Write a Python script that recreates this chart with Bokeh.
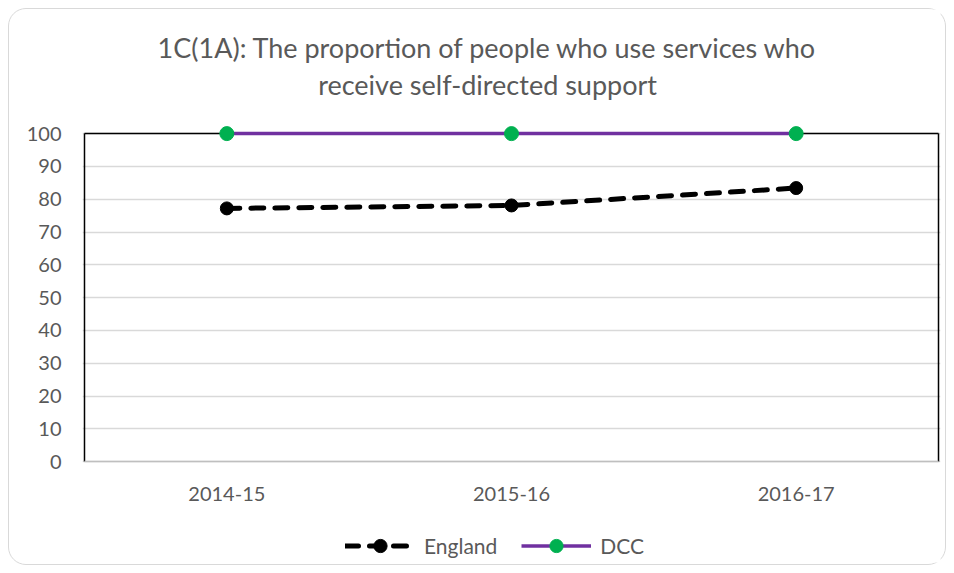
from bokeh.plotting import figure
from bokeh.models import Range1d, FixedTicker, Legend, LegendItem, Label
from bokeh.core.properties import value
from bokeh.embed import file_html
from bokeh.resources import INLINE

# ---- data ----
categories = ["2014-15", "2015-16", "2016-17"]
england = [77.2, 78.1, 83.4]
dcc = [100, 100, 100]
y_ticks = [0, 10, 20, 30, 40, 50, 60, 70, 80, 90, 100]
title_lines = ["1C(1A): The proportion of people who use services who",
               "receive self-directed support"]
series_names = ["England", "DCC"]

FONT = "Lato"
GREY = "#595959"

xs = [i + 0.5 for i in range(len(categories))]
n = len(categories)
ymax = y_ticks[-1]

# px per y unit = 3.28 ; frame covers the whole canvas height so that the
# title, category labels and legend (drawn inside the frame) are not clipped
PX = 3.28
FRAME_H = 553
Y_TOP = 104 + 111 / PX
Y_BOT = Y_TOP - FRAME_H / PX

p = figure(frame_width=858, frame_height=FRAME_H,
           x_range=Range1d(-0.007, n + 0.007), y_range=Range1d(Y_BOT, Y_TOP),
           output_backend="svg", toolbar_location=None, x_axis_location=None,
           min_border_left=73, min_border_right=5, min_border_top=0, min_border_bottom=2)
p.styles = {"border": "1.5px solid #d9d9d9", "border-radius": "18px",
            "margin-left": "8px", "margin-top": "8px"}
p.outline_line_color = None
p.border_fill_color = None
p.background_fill_color = "white"

# y axis
p.yaxis.ticker = FixedTicker(ticks=y_ticks)
p.yaxis.axis_line_color = None
p.yaxis.major_tick_line_color = None
p.yaxis.minor_tick_line_color = None
p.yaxis.major_label_standoff = 15
p.yaxis.major_label_text_font = FONT
p.yaxis.major_label_text_font_size = "20px"
p.yaxis.major_label_text_color = GREY

p.xgrid.grid_line_color = None
p.ygrid.grid_line_color = "#d9d9d9"
p.ygrid.grid_line_width = 1.3

# plot-area border
p.segment(x0=[0, 0, n], y0=[0, ymax, 0], x1=[0, n, n], y1=[ymax, ymax, ymax],
          line_color="black", line_width=1.5)
p.segment(x0=[0], y0=[0], x1=[n], y1=[0], line_color="#bfbfbf", line_width=1.5)

# category labels (x axis)
p.text(x=xs, y=[-9.8] * n, text=categories, text_align="center", text_baseline="middle",
       text_font=value(FONT), text_font_size="20px", text_color=GREY)

# series
l1 = p.line(xs, england, line_color="black", line_width=5, line_dash="13 11", line_cap="round")
s1 = p.scatter(xs, england, size=13, fill_color="black", line_color="black")
l2 = p.line(xs, dcc, line_color="#7030a0", line_width=3.5)
s2 = p.scatter(xs, dcc, size=14, fill_color="#00b050", line_color="#00b050")

# two-line title
for t, yv in zip(title_lines, [126.2, 114.9]):
    p.add_layout(Label(x=1.416, y=yv, text=t, text_align="center", text_baseline="middle",
                       text_font=FONT, text_font_size="27px", text_color=GREY))

legend = Legend(items=[LegendItem(label=series_names[0], renderers=[l1, s1]),
                       LegendItem(label=series_names[1], renderers=[l2, s2])],
                location=(263, 0), orientation="horizontal",
                glyph_width=70, glyph_height=33, label_height=33,
                label_text_font=FONT, label_text_font_size="21px", label_text_color=GREY,
                label_standoff=9, spacing=24, padding=0, margin=0,
                border_line_color=None, background_fill_color=None)
p.add_layout(legend, "center")

open("out.html", "w").write(file_html(p, INLINE))
